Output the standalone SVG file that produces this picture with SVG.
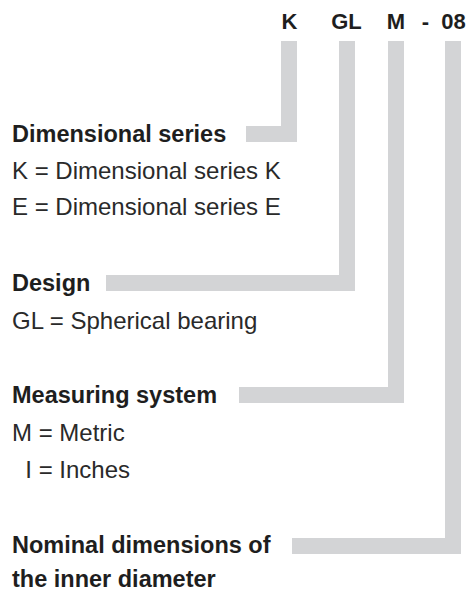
<svg xmlns="http://www.w3.org/2000/svg" width="469" height="593" viewBox="0 0 469 593">
<style>
.bar{fill:#d3d4d6}
.code{font-family:"Liberation Sans",Arial,sans-serif;font-weight:bold;font-size:22px;fill:#1e1e1e;text-anchor:middle}
.head{font-family:"Liberation Sans",Arial,sans-serif;font-weight:bold;font-size:23.5px;fill:#1e1e1e}
.txt{font-family:"Liberation Sans",Arial,sans-serif;font-size:24px;fill:#2a2a2a}
</style>
<rect width="469" height="593" fill="#ffffff"/>
<g id="code">
<text class="code" x="289.5" y="29">K</text>
<text class="code" x="346.5" y="29">GL</text>
<text class="code" x="396" y="29">M</text>
<text class="code" x="425.5" y="29">-</text>
<text class="code" x="453.5" y="29">08</text>
</g>
<g id="connectors">
<path class="bar" d="M281 41H297V142H246V126H281Z"/>
<path class="bar" d="M339 41H355V291H106V275H339Z"/>
<path class="bar" d="M388 41H404V403H239V387H388Z"/>
<path class="bar" d="M445 41H461V554H292V538H445Z"/>
</g>
<g id="dimensional-series">
<text class="head" x="12" y="142">Dimensional series</text>
<text class="txt" x="12" y="179">K = Dimensional series K</text>
<text class="txt" x="12" y="215">E = Dimensional series E</text>
</g>
<g id="design">
<text class="head" x="12" y="291">Design</text>
<text class="txt" x="12" y="329">GL = Spherical bearing</text>
</g>
<g id="measuring-system">
<text class="head" x="12" y="403">Measuring system</text>
<text class="txt" x="12" y="441">M = Metric</text>
<text class="txt" x="25.3" y="478">I = Inches</text>
</g>
<g id="nominal-dimensions">
<text class="head" x="12" y="553">Nominal dimensions of</text>
<text class="head" x="12" y="587">the inner diameter</text>
</g>
</svg>
